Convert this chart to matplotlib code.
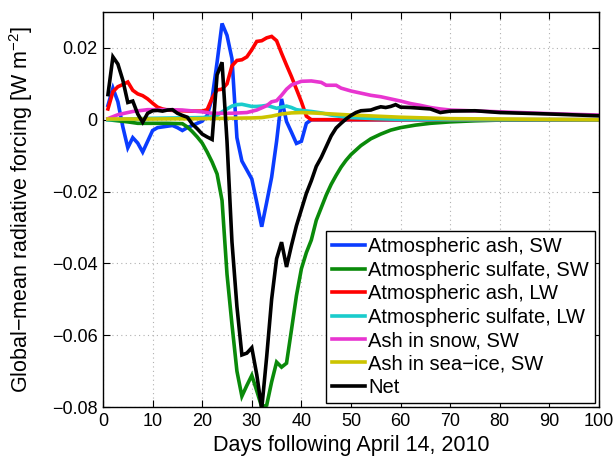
import matplotlib
matplotlib.use("Agg")
import matplotlib.pyplot as plt

plt.rcParams['font.family'] = ['Liberation Sans', 'DejaVu Sans']
plt.rcParams['mathtext.fontset'] = 'custom'
plt.rcParams['mathtext.rm'] = 'Liberation Sans'
plt.rcParams['mathtext.it'] = 'Liberation Sans:italic'
plt.rcParams['axes.unicode_minus'] = True

# ---------------- data ----------------
labels = ["Atmospheric ash, SW", "Atmospheric sulfate, SW", "Atmospheric ash, LW",
          "Atmospheric sulfate, LW", "Ash in snow, SW", "Ash in sea\u2212ice, SW", "Net"]
colors = ["#0A3CFF", "#0A8A0A", "#FF0000", "#1ACCCC", "#E835D0", "#CCC400", "#000000"]

ash_sw_days = [1, 2, 3, 4, 5, 6, 7, 8, 9, 10, 11, 12, 13, 14, 15, 16, 17, 18, 19, 20,
               21, 22, 23, 24, 25, 26, 27, 28, 29, 30, 31, 32, 33, 34, 35, 36, 37, 38,
               39, 40, 41, 42, 50, 60, 70, 80, 90, 100]
ash_sw = [0.004, 0.0088, 0.005, -0.002, -0.0078, -0.005, -0.0065, -0.009, -0.006, -0.003,
          -0.0022, -0.002, -0.0018, -0.0016, -0.0022, -0.003, -0.0022, -0.0016, -0.001, -0.0004,
          0.0012, 0.006, 0.016, 0.0268, 0.0235, 0.017, -0.005, -0.0115, -0.014, -0.0165,
          -0.023, -0.0298, -0.023, -0.016, -0.006, 0.0058, -0.0005, -0.0035, -0.0066, -0.006,
          -0.001, 0.0, 0.0, 0.0, 0.0, 0.0, 0.0, 0.0]

sulf_sw_days = [1, 3, 5, 7, 10, 13, 16, 17, 18, 19, 20, 21, 22, 23, 24, 25, 26, 27, 28,
                29, 30, 31, 32, 33, 34, 35, 36, 37, 38, 39, 40, 41, 42, 43, 44, 45, 46,
                47, 48, 49, 50, 52, 54, 56, 58, 60, 63, 66, 70, 75, 80, 90, 100]
sulf_sw = [0.0, -0.0003, -0.0006, -0.001, -0.001, -0.001, -0.0011, -0.002, -0.0033, -0.0048,
           -0.0065, -0.009, -0.0118, -0.0151, -0.0225, -0.043, -0.057, -0.07, -0.077,
           -0.074, -0.0712, -0.0755, -0.08, -0.0795, -0.073, -0.0675, -0.0689, -0.0678,
           -0.0585, -0.049, -0.0415, -0.037, -0.0335, -0.028, -0.0245, -0.021, -0.018,
           -0.0155, -0.0132, -0.0113, -0.0097, -0.0072, -0.0053, -0.004, -0.0029, -0.0022,
           -0.0015, -0.001, -0.0006, -0.0003, -0.0001, 0.0, 0.0]

ash_lw_days = [1, 2, 3, 4, 5, 6, 7, 8, 9, 10, 11, 12, 13, 14, 16, 18, 20, 21, 22, 23, 24,
               25, 26, 27, 28, 29, 30, 31, 32, 33, 34, 35, 36, 37, 38, 39, 40, 41, 42,
               50, 60, 70, 80, 90, 100]
ash_lw = [0.003, 0.0078, 0.0092, 0.0098, 0.0105, 0.0082, 0.0072, 0.0067, 0.0058, 0.0046,
          0.0035, 0.003, 0.0027, 0.0026, 0.0025, 0.0024, 0.0024, 0.0028, 0.006, 0.0083,
          0.0085, 0.01, 0.015, 0.0165, 0.0167, 0.0175, 0.0195, 0.0218, 0.022, 0.0228,
          0.0232, 0.022, 0.0185, 0.0152, 0.012, 0.0085, 0.005, 0.001, 0.0,
          0.0, 0.0, 0.0, 0.0, 0.0, 0.0]

sulf_lw_days = [1, 5, 10, 15, 20, 22, 23, 24, 25, 26, 27, 28, 29, 30, 31, 32, 33, 34, 35,
                36, 37, 38, 39, 40, 42, 44, 46, 48, 50, 55, 60, 70, 80, 90, 100]
sulf_lw = [0.0, 0.0002, 0.0004, 0.0005, 0.0006, 0.0008, 0.0012, 0.0022, 0.003, 0.0038,
           0.0042, 0.0043, 0.004, 0.0037, 0.0037, 0.0038, 0.004, 0.0036, 0.0032, 0.0035,
           0.0038, 0.0034, 0.0028, 0.0026, 0.0023, 0.0019, 0.0013, 0.0009, 0.0006, 0.0003,
           0.0001, 0.0, 0.0, 0.0, 0.0]

snow_days = [1, 3, 6, 9, 13, 16, 20, 22, 24, 26, 29, 31, 33, 34, 35, 36, 37, 38, 40, 42,
             44, 45, 47, 48, 50, 52, 54, 56, 58, 60, 62, 64, 66, 68, 70, 80, 90, 100]
snow = [0.0003, 0.0014, 0.0023, 0.0028, 0.0028, 0.0027, 0.0022, 0.0018, 0.0018, 0.0018,
        0.002, 0.0027, 0.0039, 0.005, 0.0053, 0.0068, 0.0085, 0.0097, 0.0107, 0.0108,
        0.0104, 0.0096, 0.0096, 0.0088, 0.008, 0.0074, 0.0068, 0.0064, 0.0058, 0.0052,
        0.0045, 0.004, 0.0034, 0.003, 0.0027, 0.0022, 0.0017, 0.0013]

seaice_days = [1, 10, 20, 30, 32, 34, 36, 38, 40, 42, 45, 50, 55, 60, 65, 70, 80, 100]
seaice = [0.0002, 0.0002, 0.0003, 0.0005, 0.0006, 0.001, 0.0016, 0.0019, 0.002, 0.0019,
          0.0017, 0.0013, 0.001, 0.0007, 0.0005, 0.0003, 0.0002, 0.0]

net_days = [1, 2, 3, 4, 5, 6, 7, 8, 9, 10, 11, 12, 13, 14, 15, 16, 17, 18, 19, 20, 21,
            22, 23, 24, 25, 26, 27, 28, 29, 30, 31, 32, 33, 34, 35, 36, 37, 38, 39, 40,
            41, 42, 43, 44, 45, 46, 47, 48, 49, 50, 51, 52, 53, 54, 55, 56, 57, 58, 59,
            60, 62, 64, 66, 68, 70, 75, 80, 90, 100]
net = [0.007, 0.0175, 0.0155, 0.011, 0.0048, 0.0052, 0.0016, -0.0007, 0.0018, 0.0025,
       0.0026, 0.0024, 0.0027, 0.0028, 0.0018, 0.0012, 0.0007, -0.0012, -0.0025, -0.004,
       -0.0048, -0.0055, 0.0125, 0.016, -0.006, -0.034, -0.052, -0.0655, -0.065, -0.0635,
       -0.071, -0.0805, -0.066, -0.05, -0.0387, -0.0341, -0.041, -0.035, -0.0295, -0.025,
       -0.0205, -0.017, -0.013, -0.0105, -0.0075, -0.0045, -0.0023, -0.001, 0.0002, 0.0012,
       0.002, 0.0025, 0.0026, 0.0027, 0.0032, 0.0036, 0.0034, 0.0037, 0.0042, 0.0035,
       0.0034, 0.0032, 0.003, 0.002, 0.0024, 0.0025, 0.002, 0.0016, 0.0011]

series = [(ash_sw_days, ash_sw), (sulf_sw_days, sulf_sw), (ash_lw_days, ash_lw),
          (sulf_lw_days, sulf_lw), (snow_days, snow), (seaice_days, seaice), (net_days, net)]

xticks = [0, 10, 20, 30, 40, 50, 60, 70, 80, 90, 100]
yticks = [-0.08, -0.06, -0.04, -0.02, 0.0, 0.02]
ytick_labels = ["\u22120.08", "\u22120.06", "\u22120.04", "\u22120.02", "0", "0.02"]

# ---------------- figure ----------------
fig = plt.figure(figsize=(6.15, 4.58), dpi=100)
ax = fig.add_axes([103 / 615, 51 / 458, 496 / 615, 395 / 458])

for (d, v), c, lab in zip(series, colors, labels):
    ax.plot(d, v, color=c, lw=2.6, label=lab, solid_joinstyle='miter')

ax.set_xlim(0, 100)
ax.set_ylim(-0.08, 0.03)
ax.set_xticks(xticks)
ax.set_xticklabels([str(t) for t in xticks])
ax.set_yticks(yticks)
ax.set_yticklabels(ytick_labels)
ax.tick_params(direction='in', length=5, width=0.8, top=True, right=True,
               labelsize=13, pad=4)
ax.grid(True, linestyle=(0, (1, 3)), color='#b0b0b0', lw=0.8)
for s in ax.spines.values():
    s.set_linewidth(1.0)

ax.set_xlabel("Days following April 14, 2010", fontsize=15.5, labelpad=4)
ax.set_ylabel("Global\u2212mean radiative forcing [W m$^{\\mathregular{\u22122}}$]",
              fontsize=15.5, labelpad=12)

leg = ax.legend(loc='lower right', fontsize=14.5, frameon=True, fancybox=False,
                edgecolor='black', framealpha=1, handlelength=1.6, handletextpad=0.18,
                labelspacing=0.22, borderpad=0.3, borderaxespad=0.2)
leg.get_frame().set_linewidth(1.0)

fig.savefig("out.png", dpi=100)
